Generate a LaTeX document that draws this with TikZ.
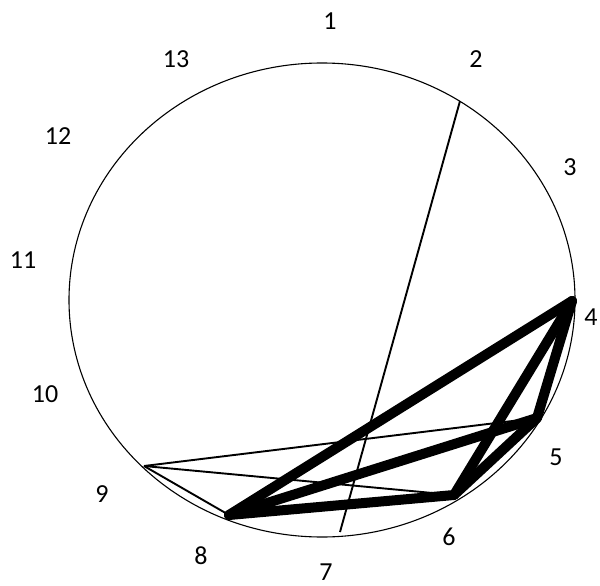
\documentclass[tikz,border=0pt]{standalone}
\usepackage{fontspec}
\setmainfont{Carlito}
\usepackage{tikz}

\begin{document}
\begin{tikzpicture}[
  x=1pt, y=-1pt,
  rim/.style={draw, line width=1.1pt},
  chord/.style={draw, line width=1.9pt},
  heavy/.style={draw, line width=10pt, line join=round, line cap=round},
  num/.style={font=\fontsize{26}{30}\selectfont, inner sep=0pt}
]
  \useasboundingbox (0,0) rectangle (600,586);

  % outer ring
  \coordinate (c) at (322,300);
  \draw[rim] (c) ellipse [x radius=253pt, y radius=237pt];

  % points on the ring
  \coordinate (p2) at (460,101);
  \coordinate (p4) at (572,301);
  \coordinate (p5) at (537,418);
  \coordinate (p6) at (454,495);
  \coordinate (p7) at (340,532);
  \coordinate (p8) at (229,515);
  \coordinate (p9) at (144,466);

  % thin chords
  \draw[chord] (p2) -- (p7);
  \draw[chord] (p9) -- (p5);
  \draw[chord] (p9) -- (p6);
  \draw[chord] (p9) -- (p8);

  % heavy chords
  \draw[heavy] (p4) -- (p8);
  \draw[heavy] (p4) -- (p6);
  \draw[heavy] (p4) -- (p5);
  \draw[heavy] (p5) -- (p8);
  \draw[heavy] (p5) -- (p6);
  \draw[heavy] (p6) -- (p8);

  % labels
  \node[num] (l1)  at (330,21)  {1};
  \node[num] (l2)  at (476,59)  {2};
  \node[num] (l3)  at (570,167) {3};
  \node[num] (l4)  at (591,317) {4};
  \node[num] (l5)  at (556,457) {5};
  \node[num] (l6)  at (449,537) {6};
  \node[num] (l7)  at (326,572) {7};
  \node[num] (l8)  at (201,556) {8};
  \node[num] (l9)  at (102,494) {9};
  \node[num] (l10) at (45,394)  {10};
  \node[num] (l11) at (23,260)  {11};
  \node[num] (l12) at (58,136)  {12};
  \node[num] (l13) at (176,59)  {13};
\end{tikzpicture}
\end{document}
